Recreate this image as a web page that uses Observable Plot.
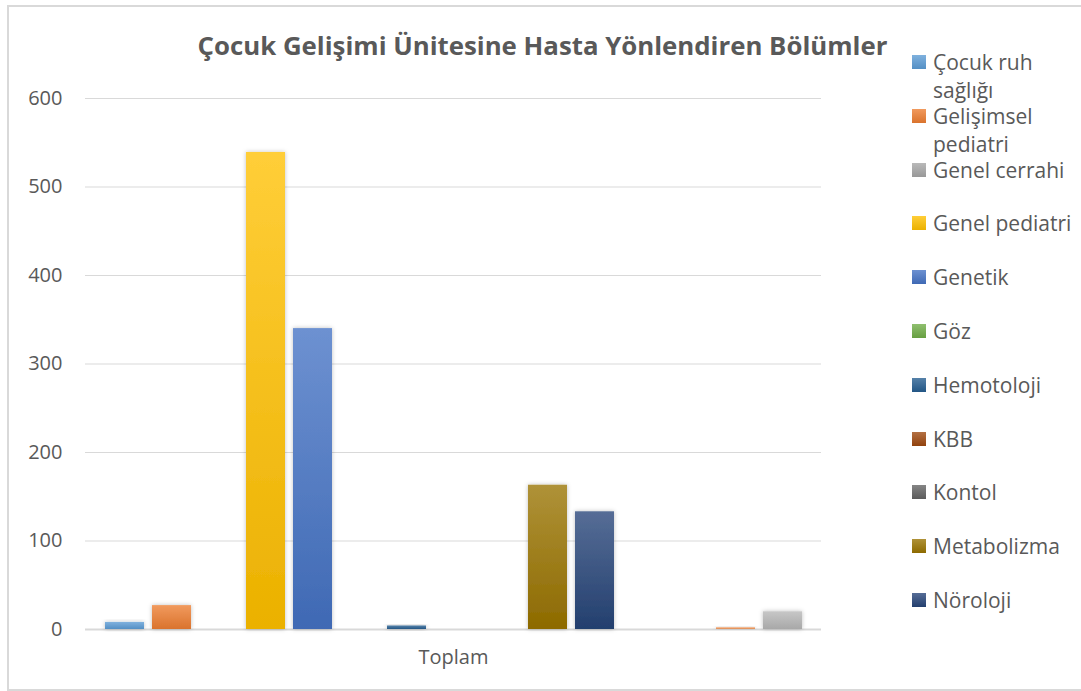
<!DOCTYPE html>
<html>
<head>
<meta charset="utf-8">
<script src="https://cdn.jsdelivr.net/npm/d3@7"></script>
<script src="https://cdn.jsdelivr.net/npm/@observablehq/plot@0.6"></script>
<style>
  html, body { margin: 0; padding: 0; background: #fff; }
  #wrap { position: relative; width: 1081px; height: 691px; overflow: hidden; font-family: "Open Sans", Lato, sans-serif; }
  #frame { position: absolute; left: 7px; top: 5px; width: 1200px; height: 686px; border: 2px solid #d9d9d9; border-right: none; box-sizing: border-box; }
  #title { position: absolute; left: 2px; width: 1081px; top: 29px; line-height: 32px; text-align: center; font-size: 25.8px; font-weight: bold; color: #595959; white-space: nowrap; }
  #chart { position: absolute; left: 0; top: 0; }
  .lg { position: absolute; left: 912px; width: 170px; color: #595959; font-size: 21px; line-height: 28px; }
  .lg .sw { position: absolute; left: 0; top: 7px; width: 14px; height: 14px; }
  .lg .tx { position: absolute; left: 21px; top: 0; width: 145px; }
</style>
</head>
<body>
<div id="wrap">
  <div id="frame"></div>
  <div id="chart"></div>
  <div id="title"></div>
  <div id="legend"></div>
</div>
<script>
const title = "Çocuk Gelişimi Ünitesine Hasta Yönlendiren Bölümler";
const category = "Toplam";
const series = ["Çocuk ruh sağlığı", "Gelişimsel pediatri", "Genel cerrahi", "Genel pediatri", "Genetik", "Göz", "Hemotoloji", "KBB", "Kontol", "Metabolizma", "Nöroloji", "Seri 12", "Seri 13", "Seri 14", "Seri 15"];
const values = [8, 27, 0, 539, 340, 0, 4, 0, 0, 163, 133, 0, 0, 2, 20];
const colors = ["#5B9BD5", "#ED7D31", "#A5A5A5", "#FFC000", "#4472C4", "#70AD47", "#255E91", "#9E480E", "#636363", "#997300", "#264478", "#43682B", "#7CAFDD", "#F1975A", "#B7B7B7"];
const yTicks = [0, 100, 200, 300, 400, 500, 600];
const legendVisible = 11;

const data = series.map((s, i) => ({series: s, value: values[i], group: category}));

const chart = Plot.plot({
  width: 1081,
  height: 691,
  marginLeft: 85,
  marginRight: 260,
  marginTop: 98,
  marginBottom: 62,
  style: {fontFamily: "'Open Sans', Lato, sans-serif", fontSize: "20px", color: "#595959", background: "transparent", overflow: "visible"},
  fx: {domain: [category], paddingInner: 0, paddingOuter: 0, label: null},
  x: {domain: series, paddingInner: 0.174, paddingOuter: 0.381, axis: null},
  y: {domain: [0, 600], label: null},
  color: {domain: series, range: colors},
  marks: [
    Plot.gridY(yTicks, {stroke: "#d9d9d9", strokeOpacity: 1, strokeWidth: 1}),
    Plot.ruleY([0], {stroke: "#d9d9d9", strokeWidth: 2}),
    Plot.barY(data, {fx: "group", x: "series", y: "value", fill: "series", className: "bars"}),
    Plot.axisY(yTicks, {tickSize: 0, tickPadding: 23, fontSize: 20, fill: "#595959", label: null}),
    Plot.axisFx({tickSize: 0, tickPadding: 20, fontSize: 20, fill: "#595959", label: null, anchor: "bottom"})
  ]
});

// gradients + soft shadow, like the original's bar styling
const svg = d3.select(chart);
const defs = svg.insert("defs", ":first-child");
const filt = defs.append("filter").attr("id", "sh").attr("x", "-30%").attr("y", "-30%").attr("width", "160%").attr("height", "160%");
filt.append("feDropShadow").attr("dx", 0).attr("dy", 0).attr("stdDeviation", 2).attr("flood-color", "#000").attr("flood-opacity", 0.25);
colors.forEach((c, i) => {
  const g = defs.append("linearGradient").attr("id", "g" + i).attr("x1", 0).attr("y1", 0).attr("x2", 0).attr("y2", 1);
  g.append("stop").attr("offset", "0%").attr("stop-color", d3.interpolateRgb(c, "#fff")(0.22));
  g.append("stop").attr("offset", "100%").attr("stop-color", d3.interpolateRgb(c, "#000")(0.08));
});
const hexes = colors.map(c => d3.color(c).formatHex());
svg.selectAll("g.bars rect").each(function() {
  const f = this.getAttribute("fill");
  const col = f ? d3.color(f) : null;
  const idx = col ? hexes.indexOf(col.formatHex()) : -1;
  if (idx >= 0) { this.setAttribute("fill", "url(#g" + idx + ")"); this.setAttribute("filter", "url(#sh)"); }
});

document.getElementById("chart").appendChild(chart);
document.getElementById("title").textContent = title;

const legend = document.getElementById("legend");
series.slice(0, legendVisible).forEach((s, i) => {
  const item = document.createElement("div");
  item.className = "lg";
  item.style.top = (48 + i * 53.8) + "px";
  const sw = document.createElement("div");
  sw.className = "sw";
  sw.style.background = `linear-gradient(${d3.interpolateRgb(colors[i], "#fff")(0.22)}, ${d3.interpolateRgb(colors[i], "#000")(0.08)})`;
  const tx = document.createElement("div");
  tx.className = "tx";
  tx.textContent = s;
  item.appendChild(sw);
  item.appendChild(tx);
  legend.appendChild(item);
});
</script>
</body>
</html>
